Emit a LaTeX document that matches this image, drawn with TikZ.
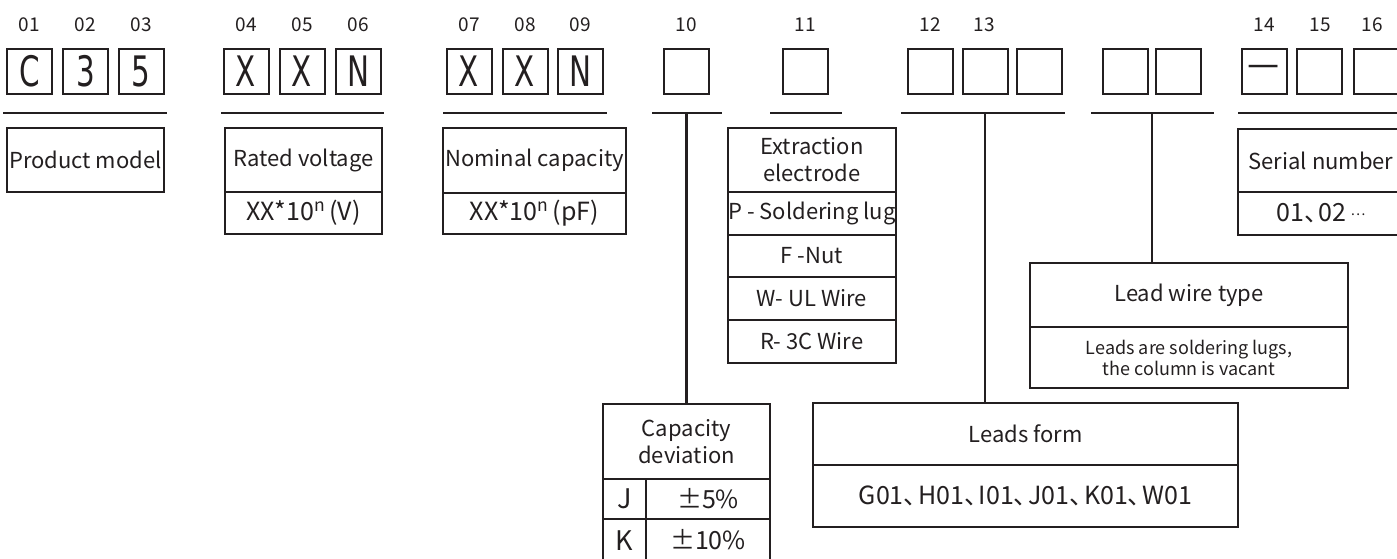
\documentclass[tikz,border=0pt]{standalone}
\usepackage{fontspec}
\setmainfont{Noto Sans CJK SC}
\newfontfamily\medfont{DejaVu Sans}
\usepackage{graphicx}
\definecolor{ink}{RGB}{35,31,32}
\newcommand{\dun}{、\kern-0.42em}
\newcommand{\bigch}[1]{\scalebox{0.7}[1]{\medfont #1}}
\begin{document}
\begin{tikzpicture}[x=1pt,y=-1pt,
  every node/.style={text=ink},
  sq/.style={draw=ink, line width=2pt, minimum width=45pt, minimum height=45pt, inner sep=0pt,
    font=\fontsize{42}{42}\selectfont},
  idx/.style={font=\fontsize{19}{19}\selectfont, inner sep=0pt},
  cell/.style={draw=ink, line width=2.2pt, inner sep=0pt, align=center,
    font=\fontsize{22}{27}\selectfont},
  big/.style={font=\fontsize{25}{28}\selectfont},
  small/.style={font=\fontsize{18}{21}\selectfont},
  uline/.style={draw=ink, line width=2.2pt},
  link/.style={draw=ink, line width=2.2pt}
]
\useasboundingbox (0,0) rectangle (1397,558);
\clip (0,0) rectangle (1397,558);

% ---- index labels ----
\node[idx] (l01) at (29.5,25) {01};
\node[idx] (l02) at (85.5,25) {02};
\node[idx] (l03) at (141,25) {03};
\node[idx] (l04) at (246,25) {04};
\node[idx] (l05) at (302,25) {05};
\node[idx] (l06) at (358,25) {06};
\node[idx] (l07) at (469,25) {07};
\node[idx] (l08) at (525,25) {08};
\node[idx] (l09) at (580.5,25) {09};
\node[idx] (l10) at (686,25) {10};
\node[idx] (l11) at (805,25) {11};
\node[idx] (l12) at (930,25) {12};
\node[idx] (l13) at (984,25) {13};
\node[idx] (l14) at (1264,25) {14};
\node[idx] (l15) at (1320,25) {15};
\node[idx] (l16) at (1372,25) {16};

% ---- code squares ----
\node[sq] (s01) at (29.5,71.5) {\bigch{C}};
\node[sq] (s02) at (85.5,71.5) {\bigch{3}};
\node[sq] (s03) at (141,71.5) {\bigch{5}};
\node[sq] (s04) at (246,71.5) {\bigch{X}};
\node[sq] (s05) at (302,71.5) {\bigch{X}};
\node[sq] (s06) at (358,71.5) {\bigch{N}};
\node[sq] (s07) at (469,71.5) {\bigch{X}};
\node[sq] (s08) at (525,71.5) {\bigch{X}};
\node[sq] (s09) at (580.5,71.5) {\bigch{N}};
\node[sq] (s10) at (686,71.5) {};
\node[sq] (s11) at (805,71.5) {};
\node[sq] (s12) at (930,71.5) {};
\node[sq] (s13) at (985.5,71.5) {};
\node[sq] (s13b) at (1039.5,71.5) {};
\node[sq] (s14a) at (1125,71.5) {};
\node[sq] (s14b) at (1178.5,71.5) {};
\node[sq, font=\fontsize{30}{30}\selectfont] (s14) at (1264,71.5) {\raisebox{-2pt}{\scalebox{1.2}[1.3]{—}}};
\node[sq] (s15) at (1319.5,71.5) {};
\node[sq] (s16) at (1376,71.5) {};

% ---- underlines ----
\coordinate (a1) at (3,113);    \coordinate (b1) at (167,113);
\coordinate (a2) at (221,113);  \coordinate (b2) at (384,113);
\coordinate (a3) at (443,113);  \coordinate (b3) at (607,113);
\coordinate (a4) at (652,113);  \coordinate (b4) at (722,113);
\coordinate (a5) at (770,113);  \coordinate (b5) at (842,113);
\coordinate (a6) at (901,113);  \coordinate (b6) at (1065,113);
\coordinate (a7) at (1091,113); \coordinate (b7) at (1214,113);
\coordinate (a8) at (1238,113); \coordinate (b8) at (1400,113);
\foreach \i in {1,...,8} { \draw[uline] (a\i) -- (b\i); }
\coordinate (u10) at (686.5,113);
\coordinate (u12) at (985,113);
\coordinate (u14) at (1152,113);

% ---- Product model ----
\node[cell, minimum width=157pt, minimum height=64pt] (pm) at (85.5,160) {Product model};

% ---- Rated voltage ----
\node[cell, minimum width=157pt, minimum height=64pt] (rv) at (303.5,160) {Rated voltage};
\node[cell, big, minimum width=157pt, minimum height=42pt] (rvv) at (303.5,213) {XX*10\textsuperscript{n}\,(V)};

% ---- Nominal capacity ----
\node[cell, minimum width=183pt, minimum height=65pt] (nc) at (534.5,160.5) {Nominal capacity};
\node[cell, big, minimum width=183pt, minimum height=41pt] (ncv) at (534.5,213.5) {XX*10\textsuperscript{n}\,(pF)};

% ---- Extraction electrode ----
\node[cell, minimum width=168pt, minimum height=64pt] (ee) at (812,160) {Extraction\\electrode};
\node[cell, minimum width=168pt, minimum height=43pt] (eep) at (812,213.5) {P - Soldering lug};
\node[cell, minimum width=168pt, minimum height=42pt] (eef) at (812,256) {F -Nut};
\node[cell, minimum width=168pt, minimum height=43pt] (eew) at (812,298.5) {W- UL Wire};
\node[cell, minimum width=168pt, minimum height=43pt] (eer) at (812,341.5) {R- 3C Wire};

% ---- Capacity deviation ----
\node[cell, minimum width=167pt, minimum height=75pt] (cd) at (686.5,441.5) {Capacity\\deviation};
\node[cell, font=\fontsize{27}{28}\selectfont, minimum width=43pt, minimum height=40pt] (cdj) at (624.5,499) {J};
\node[cell, big, minimum width=124pt, minimum height=40pt] (cdjv) at (708,499) {±5\%};
\node[cell, font=\fontsize{27}{28}\selectfont, minimum width=43pt, minimum height=44pt] (cdk) at (624.5,541) {\raisebox{-3pt}{K}};
\node[cell, big, minimum width=124pt, minimum height=44pt] (cdkv) at (708,541) {\raisebox{4pt}{±10\%}};

% ---- Leads form ----
\node[cell, minimum width=425pt, minimum height=62pt] (lf) at (1025.5,434) {Leads form};
\node[cell, big, minimum width=425pt, minimum height=62pt] (lfv) at (1025.5,496) {G01\dun H01\dun I01\dun J01\dun K01\dun W01};

% ---- Lead wire type ----
\node[cell, minimum width=318pt, minimum height=64pt] (lw) at (1189,295) {Lead wire type};
\node[cell, small, minimum width=318pt, minimum height=61pt] (lwv) at (1189,357.5) {Leads are soldering lugs,\\the column is vacant};

% ---- Serial number ----
\node[cell, minimum width=166pt, minimum height=63pt] (sn) at (1321,160.5) {Serial number};
\node[cell, big, minimum width=166pt, minimum height=43pt] (snv) at (1321,213.5) {01\dun 02\,{\fontsize{14}{14}\selectfont\raisebox{6pt}{…}}};

% ---- connectors ----
\draw[link] (u10) -- (u10 |- cd.north);
\draw[link] (u12) -- (u12 |- lf.north);
\draw[link] (u14) -- (u14 |- lw.north);
\end{tikzpicture}
\end{document}
